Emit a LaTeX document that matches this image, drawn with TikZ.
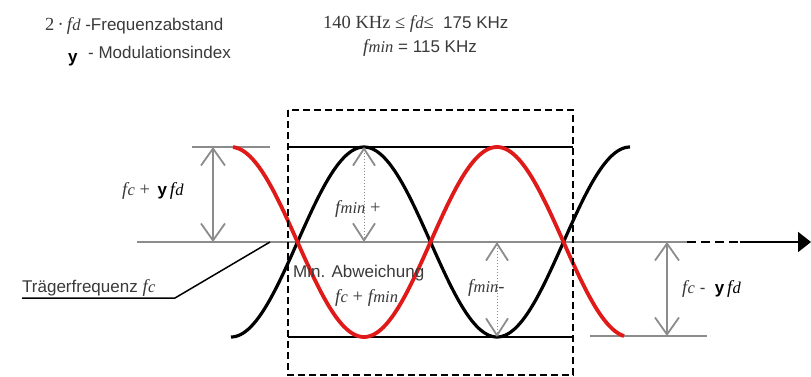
\documentclass[tikz,border=0pt]{standalone}
\usepackage{fontspec}
\setmainfont{Liberation Sans}
\newfontfamily\tms{Liberation Serif}
\usetikzlibrary{arrows.meta}
\definecolor{txt}{HTML}{3A3A3A}
\definecolor{gline}{HTML}{8C8C8C}
\definecolor{wred}{HTML}{E01A18}
\newcommand\sz{\fontsize{18.5}{21}\selectfont}
\newcommand\fvar[1]{{\tms\itshape\sz f\kern0.4pt{\fontsize{16.5}{19}\selectfont #1}}}
\newcommand\ybold{{\bfseries y}}
\begin{document}
\begin{tikzpicture}[x=1pt,y=-1pt,
  font=\fontsize{17}{20}\selectfont,
  lbl/.style={anchor=base west, inner sep=0pt, text=txt},
  gl/.style={draw=gline, line width=1.8pt},
  garr/.style={draw=gline, line width=1.8pt, {Straight Barb[length=17pt,width=24pt]}-{Straight Barb[length=17pt,width=24pt]}},
  dotarr/.style={draw=gline, line width=1pt, dotted, {Straight Barb[length=17pt,width=22pt,line width=1.8pt]}-{Straight Barb[length=17pt,width=22pt,line width=1.8pt]}},
  blk/.style={draw=black, line width=2.8pt},
  wblack/.style={draw=black, line width=3.2pt},
  wredst/.style={draw=wred, line width=3.8pt},
  box/.style={draw=black, line width=1.6pt, dash pattern=on 7pt off 4pt}
]
\fill[white] (0,0) rectangle (811,376);
\useasboundingbox (0,0) rectangle (811,376);

% coordinates
\coordinate (ax0) at (137,242);
\coordinate (ax1) at (687,242);
\coordinate (ax2) at (740,242);
\coordinate (ax3) at (811,242);
\coordinate (tl) at (288,147);
\coordinate (tr) at (573,147);
\coordinate (bl) at (288,337);
\coordinate (br) at (573,337);
\coordinate (bx0) at (288,110);
\coordinate (bx1) at (573,375);
\coordinate (lg0) at (192,147);
\coordinate (lg1) at (270,147);
\coordinate (la0) at (213,147);
\coordinate (la1) at (213,242);
\coordinate (rg0) at (590,336);
\coordinate (rg1) at (707,336);
\coordinate (ra0) at (667,242);
\coordinate (ra1) at (667,336);
\coordinate (m1a) at (364,147);
\coordinate (m1b) at (364,242);
\coordinate (m2a) at (497,242);
\coordinate (m2b) at (497,337);
\coordinate (ld0) at (22,298);
\coordinate (ld1) at (175,298);
\coordinate (ld2) at (270,242);

% axis
\draw[gl] (ax0) -- (ax1);
\draw[draw=black, line width=2pt, dash pattern=on 9pt off 5pt] (ax1) -- (ax2);
\draw[draw=black, line width=2pt, -{Triangle[length=13pt,width=20pt]}] (ax2) -- (ax3);

% reference lines
\draw[gl] (lg0) -- (lg1);
\draw[gl] (rg0) -- (rg1);
\draw[blk] (tl) -- (tr);
\draw[blk] (bl) -- (br);

% waves
\draw[wblack] plot[domain=231:630, samples=160, smooth] (\x, {242-95*cos(1.353383*(\x-364))});
\draw[wredst] plot[domain=233:624, samples=160, smooth] (\x, {242+95*cos(1.353383*(\x-364))});

% dashed box
\draw[box] (bx0) rectangle (bx1);

% arrows
\draw[garr] (la0) -- (la1);
\draw[garr] (ra0) -- (ra1);
\draw[dotarr] (m1a) -- (m1b);
\draw[dotarr] (m2a) -- (m2b);

% leader
\draw[draw=black, line width=1.5pt] (ld0) -- (ld1) -- (ld2);

% texts
\node[lbl] (t1) at (45,30) {{\tms\sz 2\,·\,}\fvar{d}\ -Frequenzabstand};
\node[lbl, text=black] (t2y) at (68,62) {\ybold};
\node[lbl] (t2) at (88,58) {- Modulationsindex};
\node[lbl] (t3) at (323,28) {{\tms\sz 140 KHz ≤ }\fvar{d}{\tms\sz ≤ } 175 KHz};
\node[lbl] (t4) at (363,52) {\fvar{min} = 115 KHz};
\node[lbl] (t5) at (122,195) {\fvar{c}{\tms\sz\ +\ }\,{\color{black}\ybold\,\fvar{d}}};
\node[lbl] (t6) at (22,292) {Trägerfrequenz \fvar{c}};
\node[lbl] (t7) at (293,277) {Min. Abweichung};
\node[lbl] (t8) at (335,302) {\fvar{c}{\tms\sz\ + }\fvar{min}};
\node[lbl] (t9) at (335,213) {\fvar{min}{\tms\sz\ +}};
\node[lbl] (t10) at (468,292) {\fvar{min}{\tms\sz -}};
\node[lbl] (t11) at (682,293) {\fvar{c}\ -\ \ {\color{black}\ybold\,\fvar{d}}};
\end{tikzpicture}
\end{document}
